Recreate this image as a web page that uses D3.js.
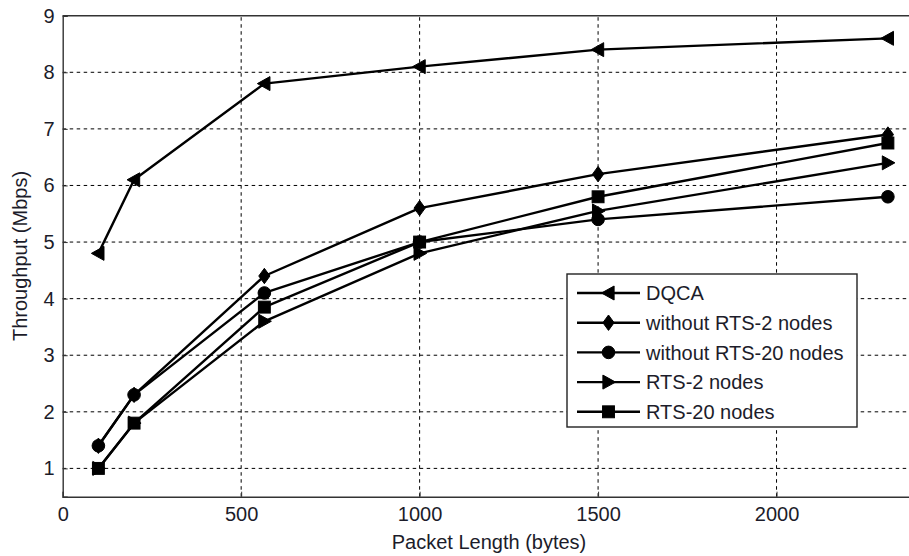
<!DOCTYPE html>
<html>
<head>
<meta charset="utf-8">
<script src="https://cdn.jsdelivr.net/npm/d3@7"></script>
<style>
  html, body { margin: 0; padding: 0; background: #fff; }
  svg { display: block; }
  text { font-family: "Liberation Sans", Arial, sans-serif; fill: #1c1c2a; }
</style>
</head>
<body>
<svg id="chart" width="909" height="556"></svg>
<script>
// Packet lengths (bytes) on the x axis
const packetLengths = [100, 200, 565, 1000, 1500, 2312];

// Throughput (Mbps) for each scheme
const dqca        = [4.8, 6.1, 7.8, 8.1, 8.4, 8.6];
const noRts2      = [1.4, 2.3, 4.4, 5.6, 6.2, 6.9];
const noRts20     = [1.4, 2.3, 4.1, 5.0, 5.4, 5.8];
const rts2        = [1.0, 1.8, 3.6, 4.8, 5.55, 6.4];
const rts20       = [1.0, 1.8, 3.85, 5.0, 5.8, 6.75];

const seriesNames = ["DQCA", "without RTS-2 nodes", "without RTS-20 nodes", "RTS-2 nodes", "RTS-20 nodes"];
const seriesValues = [dqca, noRts2, noRts20, rts2, rts20];
const markerTypes = ["triLeft", "diamond", "circle", "triRight", "square"];

const xTicks = [0, 500, 1000, 1500, 2000];
const yTicks = [1, 2, 3, 4, 5, 6, 7, 8, 9];

const FONT = 20;
const svg = d3.select("#chart");

const plotL = 62.7, plotR = 955, plotT = 15.7, plotB = 496.7;
const x = d3.scaleLinear().domain([0, 2500]).range([plotL, plotR]);
const y = d3.scaleLinear().domain([0.5, 9]).range([plotB, plotT]);

// dashed grid
const grid = svg.append("g").attr("stroke", "#000").attr("stroke-width", 1)
  .attr("stroke-dasharray", "3.5,3.5");
xTicks.filter(t => t > 0).forEach(t => {
  grid.append("line").attr("x1", x(t)).attr("x2", x(t)).attr("y1", plotB).attr("y2", plotT);
});
yTicks.filter(t => t < 9).forEach(t => {
  grid.append("line").attr("x1", plotL).attr("x2", plotR).attr("y1", y(t)).attr("y2", y(t));
});

// axes (inward ticks)
const xAxis = d3.axisBottom(x).tickValues(xTicks).tickSize(-5).tickPadding(10).tickFormat(d3.format("d"));
const gx = svg.append("g").attr("transform", `translate(0,${plotB})`).call(xAxis);
const yAxis = d3.axisLeft(y).tickValues(yTicks).tickSize(-5).tickPadding(8).tickFormat(d3.format("d"));
const gy = svg.append("g").attr("transform", `translate(${plotL},0)`).call(yAxis);
[gx, gy].forEach(g => {
  g.select(".domain").attr("stroke", "#333").attr("stroke-width", 1.4);
  g.selectAll(".tick line").attr("stroke", "#333");
  g.selectAll(".tick text").attr("font-size", FONT).attr("fill", "#1c1c2a")
    .attr("font-family", "'Liberation Sans', Arial, sans-serif");
});
// top frame line
svg.append("line").attr("x1", plotL).attr("x2", plotR).attr("y1", plotT).attr("y2", plotT)
  .attr("stroke", "#333").attr("stroke-width", 1.4);

// axis titles
svg.append("text").attr("x", 489).attr("y", 549).attr("text-anchor", "middle")
  .attr("font-size", FONT).text("Packet Length (bytes)");
svg.append("text").attr("transform", "translate(27,256) rotate(-90)").attr("text-anchor", "middle")
  .attr("font-size", FONT).text("Throughput (Mbps)");

// marker shapes
function marker(g, type, cx, cy) {
  const s = 7;
  let el;
  switch (type) {
    case "triLeft":
      el = g.append("path").attr("d", `M${cx - s},${cy} L${cx + s * 0.8},${cy - s} L${cx + s * 0.8},${cy + s} Z`); break;
    case "triRight":
      el = g.append("path").attr("d", `M${cx + s},${cy} L${cx - s * 0.8},${cy - s} L${cx - s * 0.8},${cy + s} Z`); break;
    case "diamond":
      el = g.append("path").attr("d", `M${cx},${cy - s * 1.1} L${cx + s * 0.8},${cy} L${cx},${cy + s * 1.1} L${cx - s * 0.8},${cy} Z`); break;
    case "circle":
      el = g.append("circle").attr("cx", cx).attr("cy", cy).attr("r", s * 0.9); break;
    case "square":
      el = g.append("rect").attr("x", cx - s * 0.85).attr("y", cy - s * 0.85)
        .attr("width", s * 1.7).attr("height", s * 1.7); break;
  }
  el.attr("fill", "#000").attr("stroke", "#000").attr("stroke-width", 1);
}

const line = d3.line().x((d, i) => x(packetLengths[i])).y(d => y(d));
seriesValues.forEach((vals, k) => {
  const g = svg.append("g");
  g.append("path").datum(vals).attr("d", line).attr("fill", "none")
    .attr("stroke", "#000").attr("stroke-width", 2.4).attr("stroke-linejoin", "round");
  vals.forEach((v, i) => marker(g, markerTypes[k], x(packetLengths[i]), y(v)));
});

// legend
const lg = svg.append("g");
lg.append("rect").attr("x", 567).attr("y", 274).attr("width", 290).attr("height", 153)
  .attr("fill", "#fff").attr("stroke", "#222").attr("stroke-width", 1.4);
seriesNames.forEach((name, k) => {
  const ry = 293 + k * 29.7;
  lg.append("line").attr("x1", 577).attr("x2", 640).attr("y1", ry).attr("y2", ry)
    .attr("stroke", "#000").attr("stroke-width", 2.4);
  marker(lg, markerTypes[k], 608.5, ry);
  lg.append("text").attr("x", 646).attr("y", ry).attr("dy", "0.36em")
    .attr("font-size", FONT).text(name);
});
</script>
</body>
</html>
